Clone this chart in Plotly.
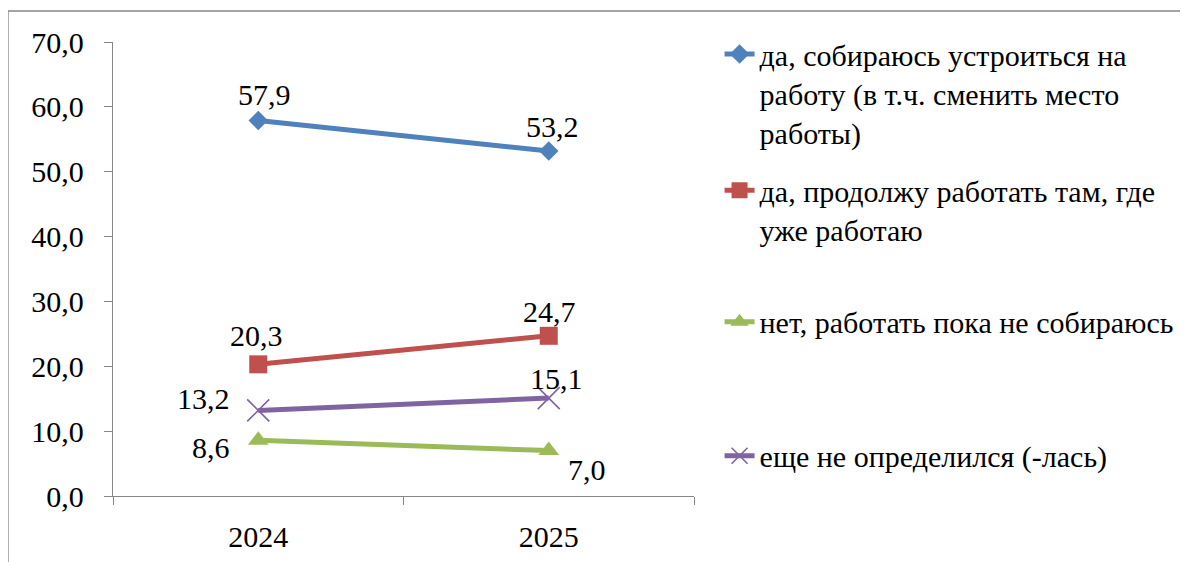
import plotly.graph_objects as go

# ---- data ----
years = ["2024", "2025"]
s_job = [57.9, 53.2]
s_keep = [20.3, 24.7]
s_no = [8.6, 7.0]
s_undec = [13.2, 15.1]
names = [
    "да, собираюсь устроиться на<br>работу (в т.ч. сменить место<br>работы)",
    "да, продолжу работать там, где<br>уже работаю",
    "нет, работать пока не собираюсь",
    "еще не определился (-лась)",
]
y_ticks = [0, 10, 20, 30, 40, 50, 60, 70]

# ---- styles ----
FONT = "Liberation Serif"
FS = 30
AX = "#868686"
colors = ["#4F81BD", "#C0504D", "#9BBB59", "#8064A2"]
symbols = ["diamond", "square", "triangle-up", "x-thin"]
msizes = [15, 18, 18, 22]
offsets = [
    [(6, 26), (4, 24)],
    [(-2, 29), (1, 24)],
    [(-47, -7), (38, -19)],
    [(-55, 12), (8, 20)],
]
legend_pos = [(1.044, 1.031), (1.044, 0.731), (1.044, 0.441), (1.044, 0.146)]

series = [s_job, s_keep, s_no, s_undec]

# the browser page adds an 8px body margin
W, H = 1180, 554
L, R, T, B = 105, 494, 34, 66
PW, PH = W - L - R, H - T - B

fig = go.Figure()
for i, vals in enumerate(series):
    mk = dict(symbol=symbols[i], size=msizes[i], color=colors[i])
    if symbols[i] == "x-thin":
        mk["line"] = dict(color=colors[i], width=1.6)
    fig.add_trace(go.Scatter(
        x=years, y=vals, mode="lines+markers", name=names[i],
        line=dict(color=colors[i], width=5),
        marker=mk,
        legend="legend" if i == 0 else f"legend{i+1}",
    ))

annotations = []
for i, vals in enumerate(series):
    for j, v in enumerate(vals):
        annotations.append(dict(
            x=j, y=v, xref="x", yref="y",
            text=f"{v:.1f}".replace(".", ","), showarrow=False,
            xshift=offsets[i][j][0], yshift=offsets[i][j][1],
            font=dict(family=FONT, size=FS, color="black"),
        ))

legend_common = dict(
    font=dict(family=FONT, size=FS, color="black"),
    bgcolor="rgba(0,0,0,0)", borderwidth=0,
    xanchor="left", yanchor="top", valign="top",
)
legends = {}
for i, (lx, ly) in enumerate(legend_pos):
    key = "legend" if i == 0 else f"legend{i+1}"
    legends[key] = dict(x=lx, y=ly, **legend_common)

fig.update_layout(
    width=W, height=H,
    margin=dict(l=L, r=R, t=T, b=B, autoexpand=False),
    paper_bgcolor="white", plot_bgcolor="white",
    separators=", ",
    showlegend=True,
    annotations=annotations,
    font=dict(family=FONT, size=FS, color="black"),
    xaxis=dict(
        type="category", range=[-0.5, 1.5], tickson="boundaries",
        showline=True, linecolor=AX, linewidth=1.3,
        ticks="outside", ticklen=8, tickcolor=AX, tickwidth=1.3,
        showgrid=False, zeroline=False, automargin=False,
        tickfont=dict(family=FONT, size=FS, color="black"),
        ticklabelstandoff=14,
    ),
    yaxis=dict(
        range=[0, 70], tickvals=y_ticks, tickformat=".1f",
        showline=True, linecolor=AX, linewidth=1.3,
        ticks="outside", ticklen=8, tickcolor=AX, tickwidth=1.3,
        showgrid=False, zeroline=False, automargin=False,
        tickfont=dict(family=FONT, size=FS, color="black"),
        ticklabelstandoff=14,
    ),
    shapes=[dict(
        type="rect", xref="paper", yref="paper",
        x0=(0 - L) / PW, x1=2.0,
        y0=-0.3, y1=(H - B - 3) / PH,
        line=dict(color=AX, width=1.3), fillcolor="rgba(0,0,0,0)", layer="below",
    )],
    **legends,
)

fig.write_html("out.html")
